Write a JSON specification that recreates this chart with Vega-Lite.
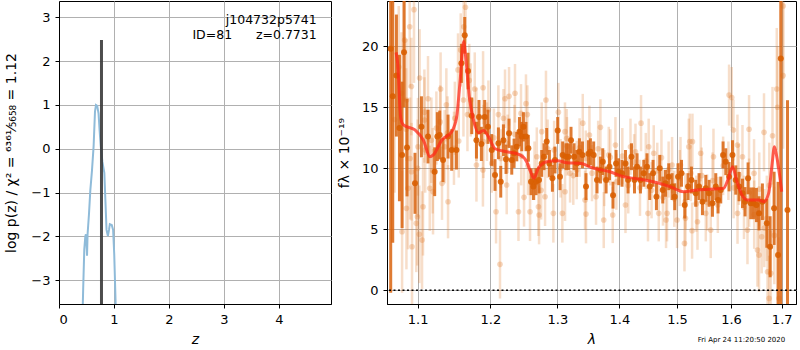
{
  "$schema": "https://vega.github.io/schema/vega-lite/v6.json",
  "padding": {"left": 4, "top": 0, "right": 0, "bottom": 0},
  "background": "white",
  "config": {
    "font": "DejaVu Sans",
    "view": {"stroke": "black", "strokeWidth": 1},
    "axis": {
      "grid": true, "gridColor": "#b0b0b0", "gridWidth": 1,
      "domainColor": "black", "tickColor": "black", "tickSize": 4,
      "labelFontSize": 13, "labelColor": "black", "labelPadding": 5,
      "titleFontSize": 14, "titleFontWeight": "normal", "titleColor": "black",
      "labelFont": "DejaVu Sans", "titleFont": "DejaVu Sans"
    }
  },
  "spacing": 56,
  "bounds": "flush",
  "hconcat": [
    {
      "width": 272, "height": 303,
      "layer": [
        {
          "data": {"name": "pz"},
          "mark": {"type": "line", "color": "#8fbbd9", "strokeWidth": 2, "clip": true},
          "encoding": {
            "x": {"field": "z", "type": "quantitative", "title": "z", "scale": {"domain": [0, 4.95], "nice": false, "zero": false},
                  "axis": {"values": [0, 1, 2, 3, 4], "format": "d", "titleFontStyle": "italic", "titlePadding": 6}},
            "y": {"field": "lp", "type": "quantitative", "title": "log p(z) / χ² = ⁶³⁶¹⁄₅₆₅₈ = 1.12", "scale": {"domain": [-3.54, 3.37], "nice": false, "zero": false},
                  "axis": {"values": [-3, -2, -1, 0, 1, 2, 3], "format": "d", "titlePadding": 12}}
          }
        },
        {
          "data": {"name": "zbest"},
          "mark": {"type": "rule", "color": "#3a3a3a", "strokeWidth": 3, "opacity": 0.9, "clip": true},
          "encoding": {
            "x": {"field": "z", "type": "quantitative", "title": "z"},
            "y": {"field": "top", "type": "quantitative", "title": "log p(z) / χ² = ⁶³⁶¹⁄₅₆₅₈ = 1.12"},
            "y2": {"field": "bottom"}
          }
        },
        {
          "data": {"name": "labels"},
          "mark": {"type": "text", "align": "right", "baseline": "middle", "fontSize": 12.5, "color": "black"},
          "encoding": {
            "x": {"field": "z", "type": "quantitative", "title": "z"},
            "y": {"field": "lp", "type": "quantitative", "title": "log p(z) / χ² = ⁶³⁶¹⁄₅₆₅₈ = 1.12"},
            "text": {"field": "label"}
          }
        }
      ]
    },
    {
      "width": 409, "height": 303,
      "layer": [
        {
          "data": {"name": "light"},
          "mark": {"type": "errorbar", "color": "#e07a2c", "opacity": 0.25, "thickness": 2.5, "clip": true},
          "encoding": {
            "x": {"field": "lam", "type": "quantitative", "title": "λ", "scale": {"type": "log", "domain": [1.0604, 1.7293], "nice": false},
                  "axis": {"values": [1.1, 1.2, 1.3, 1.4, 1.5, 1.6, 1.7], "format": ".1f", "titleFontStyle": "italic", "titlePadding": 6}},
            "y": {"field": "f", "type": "quantitative", "title": "fλ × 10⁻¹⁹", "scale": {"domain": [-1.12, 23.71], "nice": false, "zero": false},
                  "axis": {"values": [0, 5, 10, 15, 20], "format": "d", "titlePadding": 10}},
            "yError": {"field": "err"}
          }
        },
        {
          "data": {"name": "light"},
          "mark": {"type": "circle", "color": "#e07a2c", "opacity": 0.3, "size": 32},
          "encoding": {
            "x": {"field": "lam", "type": "quantitative", "title": "λ"},
            "y": {"field": "f", "type": "quantitative", "title": "fλ × 10⁻¹⁹"}
          }
        },
        {
          "data": {"name": "dark"},
          "mark": {"type": "errorbar", "color": "#d9640f", "opacity": 0.85, "thickness": 3, "clip": true},
          "encoding": {
            "x": {"field": "lam", "type": "quantitative", "title": "λ"},
            "y": {"field": "f", "type": "quantitative", "title": "fλ × 10⁻¹⁹"},
            "yError": {"field": "err"}
          }
        },
        {
          "data": {"name": "dark"},
          "mark": {"type": "circle", "color": "#d95f02", "opacity": 0.9, "size": 36},
          "encoding": {
            "x": {"field": "lam", "type": "quantitative", "title": "λ"},
            "y": {"field": "f", "type": "quantitative", "title": "fλ × 10⁻¹⁹"}
          }
        },
        {
          "data": {"name": "model"},
          "mark": {"type": "line", "color": "#ff2a1a", "opacity": 0.75, "strokeWidth": 3, "interpolate": "monotone", "clip": true},
          "encoding": {
            "x": {"field": "lam", "type": "quantitative", "title": "λ"},
            "y": {"field": "f", "type": "quantitative", "title": "fλ × 10⁻¹⁹"}
          }
        },
        {
          "data": {"name": "zero"},
          "mark": {"type": "rule", "color": "black", "strokeWidth": 1.5, "strokeDash": [2, 2.5]},
          "encoding": {
            "y": {"field": "f", "type": "quantitative", "title": "fλ × 10⁻¹⁹"}
          }
        },
        {
          "data": {"name": "stamp"},
          "mark": {"type": "text", "align": "center", "baseline": "middle", "fontSize": 7, "color": "black", "clip": false},
          "encoding": {
            "x": {"field": "lam", "type": "quantitative", "title": "λ"},
            "y": {"field": "f", "type": "quantitative", "title": "fλ × 10⁻¹⁹"},
            "text": {"field": "label"}
          }
        }
      ]
    }
  ],
  "datasets": {
    "pz": [
      {"z": 0.42, "lp": -4.2}, {"z": 0.44, "lp": -3.2}, {"z": 0.46, "lp": -2.3}, {"z": 0.479, "lp": -2.0},
      {"z": 0.49, "lp": -1.95}, {"z": 0.50, "lp": -2.1}, {"z": 0.51, "lp": -2.44}, {"z": 0.52, "lp": -1.95},
      {"z": 0.545, "lp": -1.5}, {"z": 0.57, "lp": -0.95}, {"z": 0.60, "lp": -0.5}, {"z": 0.63, "lp": 0.06},
      {"z": 0.655, "lp": 0.85}, {"z": 0.673, "lp": 1.0}, {"z": 0.695, "lp": 0.98}, {"z": 0.72, "lp": 0.8},
      {"z": 0.74, "lp": 0.4}, {"z": 0.76, "lp": 0.06}, {"z": 0.79, "lp": -0.3}, {"z": 0.825, "lp": -0.55},
      {"z": 0.845, "lp": -1.2}, {"z": 0.865, "lp": -1.85}, {"z": 0.89, "lp": -1.99}, {"z": 0.91, "lp": -1.85},
      {"z": 0.925, "lp": -1.72}, {"z": 0.96, "lp": -1.74}, {"z": 0.985, "lp": -1.85}, {"z": 1.005, "lp": -2.4},
      {"z": 1.03, "lp": -3.5}, {"z": 1.04, "lp": -4.2}
    ],
    "zbest": [{"z": 0.7731, "top": 2.48, "bottom": -4.0}],
    "labels": [
      {"z": 4.69, "lp": 2.94, "label": "j104732p5741"},
      {"z": 4.69, "lp": 2.6, "label": "ID=81\u00a0\u00a0\u00a0\u00a0\u00a0\u00a0z=0.7731"}
    ],
    "zero": [{"f": 0}],
    "stamp": [{"lam": 1.6201, "f": -4.07, "label": "Fri Apr 24 11:20:50 2020"}],
    "model": [
      {"lam": 1.072, "f": 19.5}, {"lam": 1.074, "f": 18.6}, {"lam": 1.078, "f": 14.1}, {"lam": 1.0814, "f": 13.55},
      {"lam": 1.0965, "f": 13.14}, {"lam": 1.1076, "f": 12.3}, {"lam": 1.1163, "f": 10.95}, {"lam": 1.1208, "f": 11.1},
      {"lam": 1.1321, "f": 12.3}, {"lam": 1.1457, "f": 13.0}, {"lam": 1.1525, "f": 14.2}, {"lam": 1.157, "f": 16.97},
      {"lam": 1.1622, "f": 20.4}, {"lam": 1.1654, "f": 18.9}, {"lam": 1.170, "f": 15.9}, {"lam": 1.1758, "f": 14.0},
      {"lam": 1.1829, "f": 12.9}, {"lam": 1.190, "f": 13.1}, {"lam": 1.1972, "f": 12.6}, {"lam": 1.2067, "f": 11.6},
      {"lam": 1.2235, "f": 11.36}, {"lam": 1.2432, "f": 11.1}, {"lam": 1.2531, "f": 10.54}, {"lam": 1.259, "f": 9.72},
      {"lam": 1.264, "f": 9.18}, {"lam": 1.2707, "f": 10.0}, {"lam": 1.2834, "f": 10.54}, {"lam": 1.30, "f": 10.62},
      {"lam": 1.3146, "f": 10.46}, {"lam": 1.3357, "f": 10.41}, {"lam": 1.3575, "f": 10.0}, {"lam": 1.3845, "f": 9.72},
      {"lam": 1.4013, "f": 9.39}, {"lam": 1.4237, "f": 9.18}, {"lam": 1.458, "f": 8.9}, {"lam": 1.4875, "f": 8.5},
      {"lam": 1.5118, "f": 8.08}, {"lam": 1.536, "f": 8.22}, {"lam": 1.56, "f": 8.28}, {"lam": 1.5858, "f": 8.36},
      {"lam": 1.595, "f": 9.18}, {"lam": 1.603, "f": 10.13}, {"lam": 1.6105, "f": 9.04}, {"lam": 1.623, "f": 7.67},
      {"lam": 1.6324, "f": 7.4}, {"lam": 1.6545, "f": 7.4}, {"lam": 1.664, "f": 7.26}, {"lam": 1.6736, "f": 7.95},
      {"lam": 1.680, "f": 10.13}, {"lam": 1.6853, "f": 11.77}, {"lam": 1.690, "f": 10.95}, {"lam": 1.700, "f": 8.08}
    ],
    "dark": [
      {"lam": 1.0651, "f": 19.8, "err": 20}, {"lam": 1.0677, "f": 15.9, "err": 12}, {"lam": 1.0724, "f": 17.6, "err": 5},
      {"lam": 1.0763, "f": 13.3, "err": 6}, {"lam": 1.0797, "f": 11.1, "err": 6}, {"lam": 1.0822, "f": 19.5, "err": 4.5},
      {"lam": 1.0861, "f": 11.7, "err": 4}, {"lam": 1.0965, "f": 8.77, "err": 2.5}, {"lam": 1.1050, "f": 13.4, "err": 2.5},
      {"lam": 1.1137, "f": 12.6, "err": 2.2}, {"lam": 1.1226, "f": 9.72, "err": 2}, {"lam": 1.1262, "f": 12.6, "err": 2},
      {"lam": 1.1294, "f": 12.73, "err": 2}, {"lam": 1.1339, "f": 10.68, "err": 1.8}, {"lam": 1.1407, "f": 12.6, "err": 1.8},
      {"lam": 1.1457, "f": 11.5, "err": 1.7}, {"lam": 1.1522, "f": 11.5, "err": 1.6}, {"lam": 1.1591, "f": 18.6, "err": 1.6},
      {"lam": 1.1637, "f": 20.9, "err": 1.5}, {"lam": 1.1683, "f": 17.97, "err": 1.5}, {"lam": 1.1735, "f": 14.3, "err": 1.5},
      {"lam": 1.1801, "f": 12.3, "err": 1.5}, {"lam": 1.1837, "f": 14.2, "err": 1.4}, {"lam": 1.1871, "f": 12.0, "err": 1.4},
      {"lam": 1.1918, "f": 14.2, "err": 1.4}, {"lam": 1.1965, "f": 13.4, "err": 1.4}, {"lam": 1.2019, "f": 11.5, "err": 1.3},
      {"lam": 1.2066, "f": 9.45, "err": 1.3}, {"lam": 1.2115, "f": 12.05, "err": 1.3}, {"lam": 1.2149, "f": 8.9, "err": 1.3},
      {"lam": 1.2188, "f": 12.3, "err": 1.3}, {"lam": 1.2226, "f": 10.74, "err": 1.2}, {"lam": 1.2270, "f": 12.87, "err": 1.2},
      {"lam": 1.2310, "f": 10.68, "err": 1.2}, {"lam": 1.2344, "f": 11.23, "err": 1.2}, {"lam": 1.2384, "f": 11.77, "err": 1.2},
      {"lam": 1.2424, "f": 13.0, "err": 1.2}, {"lam": 1.2458, "f": 12.6, "err": 1.2}, {"lam": 1.2483, "f": 13.4, "err": 1.2},
      {"lam": 1.2521, "f": 12.6, "err": 1.2}, {"lam": 1.2557, "f": 11.64, "err": 1.1}, {"lam": 1.2597, "f": 8.9, "err": 1.1},
      {"lam": 1.2633, "f": 8.5, "err": 1.1}, {"lam": 1.2673, "f": 8.9, "err": 1.1}, {"lam": 1.2718, "f": 9.04, "err": 1.1},
      {"lam": 1.2759, "f": 10.4, "err": 1.1}, {"lam": 1.2794, "f": 10.95, "err": 1.1}, {"lam": 1.2835, "f": 12.2, "err": 1.1},
      {"lam": 1.2877, "f": 10.4, "err": 1.1}, {"lam": 1.2923, "f": 9.18, "err": 1.1}, {"lam": 1.2963, "f": 10.68, "err": 1.1},
      {"lam": 1.3005, "f": 13.1, "err": 1.1}, {"lam": 1.3041, "f": 9.31, "err": 1.1}, {"lam": 1.3083, "f": 11.1, "err": 1.1},
      {"lam": 1.3135, "f": 10.95, "err": 1.1}, {"lam": 1.3173, "f": 10.95, "err": 1.1}, {"lam": 1.3214, "f": 12.3, "err": 1.1},
      {"lam": 1.3262, "f": 10.95, "err": 1.1}, {"lam": 1.3304, "f": 10.4, "err": 1.1}, {"lam": 1.3347, "f": 11.36, "err": 1.1},
      {"lam": 1.3396, "f": 11.1, "err": 1.1}, {"lam": 1.3453, "f": 8.5, "err": 1.1}, {"lam": 1.3492, "f": 11.2, "err": 1.1},
      {"lam": 1.3524, "f": 11.36, "err": 1.1}, {"lam": 1.3577, "f": 11.1, "err": 1.1}, {"lam": 1.3631, "f": 9.04, "err": 1.1},
      {"lam": 1.3687, "f": 9.86, "err": 1.1}, {"lam": 1.3725, "f": 10.54, "err": 1.1}, {"lam": 1.3780, "f": 9.04, "err": 1.1},
      {"lam": 1.3836, "f": 10.13, "err": 1.1}, {"lam": 1.3895, "f": 7.8, "err": 1.1}, {"lam": 1.3945, "f": 10.4, "err": 1.1},
      {"lam": 1.3990, "f": 9.72, "err": 1.1}, {"lam": 1.4045, "f": 9.59, "err": 1.1}, {"lam": 1.4103, "f": 10.4, "err": 1.1},
      {"lam": 1.4147, "f": 9.04, "err": 1.1}, {"lam": 1.4205, "f": 10.95, "err": 1.1}, {"lam": 1.4256, "f": 9.04, "err": 1.1},
      {"lam": 1.4300, "f": 10.13, "err": 1.1}, {"lam": 1.4358, "f": 9.04, "err": 1.1}, {"lam": 1.4415, "f": 9.59, "err": 1.1},
      {"lam": 1.4471, "f": 10.13, "err": 1.1}, {"lam": 1.4518, "f": 8.5, "err": 1.1}, {"lam": 1.4576, "f": 9.59, "err": 1.1},
      {"lam": 1.4635, "f": 7.67, "err": 1.1}, {"lam": 1.4693, "f": 10.0, "err": 1.1}, {"lam": 1.4746, "f": 8.22, "err": 1.1},
      {"lam": 1.4794, "f": 8.77, "err": 1.1}, {"lam": 1.4852, "f": 9.31, "err": 1.1}, {"lam": 1.4911, "f": 8.5, "err": 1.1},
      {"lam": 1.4959, "f": 7.67, "err": 1.1}, {"lam": 1.5018, "f": 9.31, "err": 1.1}, {"lam": 1.5080, "f": 9.59, "err": 1.1},
      {"lam": 1.5139, "f": 6.99, "err": 1.1}, {"lam": 1.5199, "f": 8.5, "err": 1.1}, {"lam": 1.5261, "f": 9.04, "err": 1.1},
      {"lam": 1.5339, "f": 7.95, "err": 1.1}, {"lam": 1.5400, "f": 8.5, "err": 1.1}, {"lam": 1.5463, "f": 7.26, "err": 1.1},
      {"lam": 1.5525, "f": 8.36, "err": 1.1}, {"lam": 1.5586, "f": 7.95, "err": 1.1}, {"lam": 1.5649, "f": 7.13, "err": 1.1},
      {"lam": 1.5711, "f": 8.5, "err": 1.1}, {"lam": 1.5754, "f": 7.4, "err": 1.1}, {"lam": 1.5805, "f": 8.22, "err": 1.1},
      {"lam": 1.5849, "f": 11.1, "err": 1.1}, {"lam": 1.5900, "f": 10.54, "err": 1.1}, {"lam": 1.5963, "f": 9.31, "err": 1.2},
      {"lam": 1.6028, "f": 11.1, "err": 1.2}, {"lam": 1.6091, "f": 9.04, "err": 1.2}, {"lam": 1.6155, "f": 8.5, "err": 1.2},
      {"lam": 1.6221, "f": 7.95, "err": 1.2}, {"lam": 1.6271, "f": 7.26, "err": 1.2}, {"lam": 1.6330, "f": 9.18, "err": 1.3},
      {"lam": 1.6382, "f": 7.13, "err": 1.3}, {"lam": 1.6435, "f": 7.13, "err": 1.3}, {"lam": 1.6494, "f": 6.99, "err": 1.4},
      {"lam": 1.6545, "f": 6.31, "err": 1.4}, {"lam": 1.6612, "f": 7.26, "err": 1.5}, {"lam": 1.6700, "f": 5.49, "err": 2},
      {"lam": 1.6766, "f": 3.57, "err": 2.5}, {"lam": 1.6846, "f": 6.72, "err": 3}, {"lam": 1.6926, "f": 2.89, "err": 6},
      {"lam": 1.6981, "f": 19.0, "err": 25}, {"lam": 1.7118, "f": 6.58, "err": 9}
    ],
    "light": [
      {"lam": 1.0952, "f": 23.0, "err": 6}, {"lam": 1.0896, "f": 21.6, "err": 5}, {"lam": 1.0831, "f": 20.5, "err": 5},
      {"lam": 1.0754, "f": 18.3, "err": 5}, {"lam": 1.0918, "f": 16.7, "err": 4}, {"lam": 1.1026, "f": 17.4, "err": 4},
      {"lam": 1.1137, "f": 15.7, "err": 3.5}, {"lam": 1.1306, "f": 16.5, "err": 3}, {"lam": 1.1384, "f": 15.2, "err": 3},
      {"lam": 1.1089, "f": 14.6, "err": 3.5}, {"lam": 1.1544, "f": 18.06, "err": 3}, {"lam": 1.1581, "f": 19.7, "err": 3},
      {"lam": 1.1647, "f": 23.2, "err": 3}, {"lam": 1.1623, "f": 21.6, "err": 3}, {"lam": 1.1619, "f": 15.6, "err": 3},
      {"lam": 1.1777, "f": 16.5, "err": 3}, {"lam": 1.1895, "f": 16.6, "err": 3}, {"lam": 1.1675, "f": 14.4, "err": 3},
      {"lam": 1.1801, "f": 10.27, "err": 3}, {"lam": 1.1893, "f": 9.86, "err": 3}, {"lam": 1.1554, "f": 12.24, "err": 3},
      {"lam": 1.1488, "f": 11.64, "err": 3}, {"lam": 1.1361, "f": 11.77, "err": 3}, {"lam": 1.1325, "f": 8.77, "err": 3},
      {"lam": 1.1407, "f": 7.26, "err": 3}, {"lam": 1.1204, "f": 8.08, "err": 3.5}, {"lam": 1.1160, "f": 8.36, "err": 3.5},
      {"lam": 1.1071, "f": 6.85, "err": 4}, {"lam": 1.1058, "f": 4.12, "err": 4}, {"lam": 1.1022, "f": 4.59, "err": 4},
      {"lam": 1.0982, "f": 5.49, "err": 4}, {"lam": 1.0996, "f": 6.03, "err": 4}, {"lam": 1.0926, "f": 3.57, "err": 5},
      {"lam": 1.0853, "f": 6.72, "err": 5}, {"lam": 1.0797, "f": 4.8, "err": 5}, {"lam": 1.0874, "f": 8.36, "err": 5},
      {"lam": 1.0920, "f": 9.72, "err": 4}, {"lam": 1.1004, "f": 11.77, "err": 4}, {"lam": 1.1090, "f": 13.96, "err": 3.5},
      {"lam": 1.1182, "f": 12.3, "err": 3.5}, {"lam": 1.0790, "f": 16.15, "err": 5}, {"lam": 1.0854, "f": 15.6, "err": 5},
      {"lam": 1.1249, "f": 13.3, "err": 3}, {"lam": 1.1720, "f": 15.6, "err": 3}, {"lam": 1.0700, "f": 14.0, "err": 6},
      {"lam": 1.0850, "f": 13.2, "err": 5}, {"lam": 1.0900, "f": 10.8, "err": 5}, {"lam": 1.1000, "f": 10.0, "err": 4},
      {"lam": 1.1100, "f": 11.5, "err": 3.5}, {"lam": 1.1200, "f": 9.8, "err": 3.5}, {"lam": 1.1300, "f": 13.8, "err": 3},
      {"lam": 1.1400, "f": 12.9, "err": 3}, {"lam": 1.1500, "f": 14.1, "err": 3}, {"lam": 1.1700, "f": 17.2, "err": 3},
      {"lam": 1.1800, "f": 13.6, "err": 3}, {"lam": 1.1900, "f": 12.2, "err": 3},
      {"lam": 1.1971, "f": 14.8, "err": 2.4}, {"lam": 1.2115, "f": 14.4, "err": 2.4}, {"lam": 1.2211, "f": 15.7, "err": 2.4},
      {"lam": 1.2270, "f": 15.9, "err": 2.4}, {"lam": 1.2358, "f": 16.15, "err": 2.4}, {"lam": 1.2188, "f": 14.1, "err": 2.4},
      {"lam": 1.2447, "f": 14.5, "err": 2.4}, {"lam": 1.2521, "f": 15.3, "err": 2.4}, {"lam": 1.2542, "f": 14.4, "err": 2.4},
      {"lam": 1.2824, "f": 15.6, "err": 2.4}, {"lam": 1.2759, "f": 13.0, "err": 2.4}, {"lam": 1.3016, "f": 14.6, "err": 2.4},
      {"lam": 1.3119, "f": 13.0, "err": 2.4}, {"lam": 1.3146, "f": 12.46, "err": 2.4}, {"lam": 1.3401, "f": 13.7, "err": 2.4},
      {"lam": 1.3508, "f": 12.73, "err": 2.4}, {"lam": 1.2138, "f": 2.13, "err": 2.8}, {"lam": 1.2081, "f": 6.44, "err": 2.6},
      {"lam": 1.2409, "f": 6.44, "err": 2.4}, {"lam": 1.2492, "f": 7.62, "err": 2.4}, {"lam": 1.2582, "f": 6.44, "err": 2.4},
      {"lam": 1.2709, "f": 6.85, "err": 2.4}, {"lam": 1.2719, "f": 6.17, "err": 2.4}, {"lam": 1.2938, "f": 6.31, "err": 2.4},
      {"lam": 1.3078, "f": 6.31, "err": 2.4}, {"lam": 1.2810, "f": 7.67, "err": 2.4}, {"lam": 1.3120, "f": 8.08, "err": 2.4},
      {"lam": 1.3437, "f": 7.4, "err": 2.4}, {"lam": 1.3453, "f": 6.25, "err": 2.4}, {"lam": 1.2236, "f": 8.63, "err": 2.4},
      {"lam": 1.2019, "f": 10.4, "err": 2.4}, {"lam": 1.2684, "f": 10.95, "err": 2.4}, {"lam": 1.3199, "f": 9.59, "err": 2.4},
      {"lam": 1.3304, "f": 9.86, "err": 2.4},
      {"lam": 1.3687, "f": 13.36, "err": 2.3}, {"lam": 1.4368, "f": 13.7, "err": 2.3}, {"lam": 1.3935, "f": 11.9, "err": 2.3},
      {"lam": 1.4188, "f": 11.77, "err": 2.3}, {"lam": 1.4500, "f": 11.77, "err": 2.3}, {"lam": 1.4723, "f": 10.87, "err": 2.3},
      {"lam": 1.5230, "f": 12.18, "err": 2.3}, {"lam": 1.5212, "f": 11.77, "err": 2.3}, {"lam": 1.5062, "f": 10.27, "err": 2.3},
      {"lam": 1.3741, "f": 5.76, "err": 2.3}, {"lam": 1.3890, "f": 6.17, "err": 2.3}, {"lam": 1.4103, "f": 6.99, "err": 2.3},
      {"lam": 1.4488, "f": 6.31, "err": 2.3}, {"lam": 1.4676, "f": 6.31, "err": 2.3}, {"lam": 1.4804, "f": 5.76, "err": 2.3},
      {"lam": 1.4822, "f": 6.31, "err": 2.3}, {"lam": 1.5000, "f": 5.76, "err": 2.3}, {"lam": 1.5134, "f": 3.85, "err": 2.3},
      {"lam": 1.5152, "f": 5.9, "err": 2.3}, {"lam": 1.5272, "f": 4.89, "err": 2.3}, {"lam": 1.3615, "f": 7.67, "err": 2.3},
      {"lam": 1.3824, "f": 11.1, "err": 2.3}, {"lam": 1.4588, "f": 11.23, "err": 2.3}, {"lam": 1.4273, "f": 11.36, "err": 2.3},
      {"lam": 1.4911, "f": 10.27, "err": 2.3},
      {"lam": 1.5963, "f": 16.0, "err": 2.5}, {"lam": 1.6014, "f": 15.8, "err": 2.5}, {"lam": 1.6349, "f": 13.2, "err": 2.8},
      {"lam": 1.6644, "f": 12.95, "err": 3.2}, {"lam": 1.6814, "f": 12.67, "err": 4}, {"lam": 1.6900, "f": 16.5, "err": 5},
      {"lam": 1.6914, "f": 15.0, "err": 5}, {"lam": 1.7028, "f": 17.6, "err": 6}, {"lam": 1.7030, "f": 23.3, "err": 6},
      {"lam": 1.5279, "f": 12.18, "err": 2.3}, {"lam": 1.5431, "f": 11.23, "err": 2.3}, {"lam": 1.5668, "f": 10.95, "err": 2.3},
      {"lam": 1.6047, "f": 13.14, "err": 2.5}, {"lam": 1.6124, "f": 11.9, "err": 2.5}, {"lam": 1.6221, "f": 10.95, "err": 2.6},
      {"lam": 1.6447, "f": 9.59, "err": 2.8}, {"lam": 1.5371, "f": 5.62, "err": 2.3}, {"lam": 1.5525, "f": 6.31, "err": 2.3},
      {"lam": 1.5617, "f": 4.94, "err": 2.3}, {"lam": 1.6125, "f": 6.31, "err": 2.5}, {"lam": 1.6514, "f": 3.3, "err": 3},
      {"lam": 1.6545, "f": 2.89, "err": 3}, {"lam": 1.6598, "f": 4.39, "err": 3}, {"lam": 1.6714, "f": 1.52, "err": 3.5},
      {"lam": 1.6780, "f": 1.39, "err": 3.5}, {"lam": 1.6746, "f": -0.66, "err": 3.5}, {"lam": 1.6946, "f": -0.66, "err": 5},
      {"lam": 1.6700, "f": 5.9, "err": 3.5}, {"lam": 1.6318, "f": 4.94, "err": 2.8},
      {"lam": 1.195, "f": 13.0, "err": 2.4}, {"lam": 1.205, "f": 12.5, "err": 2.4}, {"lam": 1.215, "f": 10.8, "err": 2.4},
      {"lam": 1.225, "f": 12.0, "err": 2.4}, {"lam": 1.235, "f": 12.8, "err": 2.4}, {"lam": 1.245, "f": 11.0, "err": 2.4},
      {"lam": 1.255, "f": 10.2, "err": 2.4}, {"lam": 1.265, "f": 9.8, "err": 2.4}, {"lam": 1.275, "f": 8.2, "err": 2.4},
      {"lam": 1.285, "f": 11.6, "err": 2.4}, {"lam": 1.295, "f": 11.5, "err": 2.4}, {"lam": 1.305, "f": 10.0, "err": 2.4},
      {"lam": 1.315, "f": 11.8, "err": 2.4}, {"lam": 1.325, "f": 9.4, "err": 2.4}, {"lam": 1.335, "f": 11.7, "err": 2.4},
      {"lam": 1.345, "f": 10.8, "err": 2.3}, {"lam": 1.355, "f": 9.6, "err": 2.3}, {"lam": 1.365, "f": 11.6, "err": 2.3},
      {"lam": 1.375, "f": 9.2, "err": 2.3}, {"lam": 1.385, "f": 10.9, "err": 2.3}, {"lam": 1.395, "f": 8.9, "err": 2.3},
      {"lam": 1.405, "f": 11.0, "err": 2.3}, {"lam": 1.415, "f": 8.6, "err": 2.3}, {"lam": 1.425, "f": 10.5, "err": 2.3},
      {"lam": 1.435, "f": 8.4, "err": 2.3}, {"lam": 1.445, "f": 10.6, "err": 2.3}, {"lam": 1.455, "f": 8.2, "err": 2.3},
      {"lam": 1.465, "f": 9.8, "err": 2.3}, {"lam": 1.475, "f": 7.6, "err": 2.3}, {"lam": 1.485, "f": 9.9, "err": 2.3},
      {"lam": 1.495, "f": 7.5, "err": 2.3}, {"lam": 1.505, "f": 9.2, "err": 2.3}, {"lam": 1.515, "f": 7.3, "err": 2.3},
      {"lam": 1.525, "f": 9.6, "err": 2.3}, {"lam": 1.535, "f": 7.1, "err": 2.3}, {"lam": 1.545, "f": 9.4, "err": 2.3},
      {"lam": 1.555, "f": 7.2, "err": 2.3}, {"lam": 1.565, "f": 9.0, "err": 2.3}, {"lam": 1.575, "f": 7.0, "err": 2.3},
      {"lam": 1.585, "f": 10.2, "err": 2.4}, {"lam": 1.595, "f": 9.8, "err": 2.4}, {"lam": 1.605, "f": 8.4, "err": 2.5},
      {"lam": 1.615, "f": 9.5, "err": 2.5}, {"lam": 1.625, "f": 6.8, "err": 2.6}, {"lam": 1.635, "f": 8.0, "err": 2.8},
      {"lam": 1.645, "f": 6.2, "err": 2.8}, {"lam": 1.655, "f": 8.3, "err": 3}, {"lam": 1.665, "f": 5.1, "err": 3.2},
      {"lam": 1.675, "f": 8.6, "err": 3.5}, {"lam": 1.685, "f": 4.5, "err": 4}
    ]
  }
}
